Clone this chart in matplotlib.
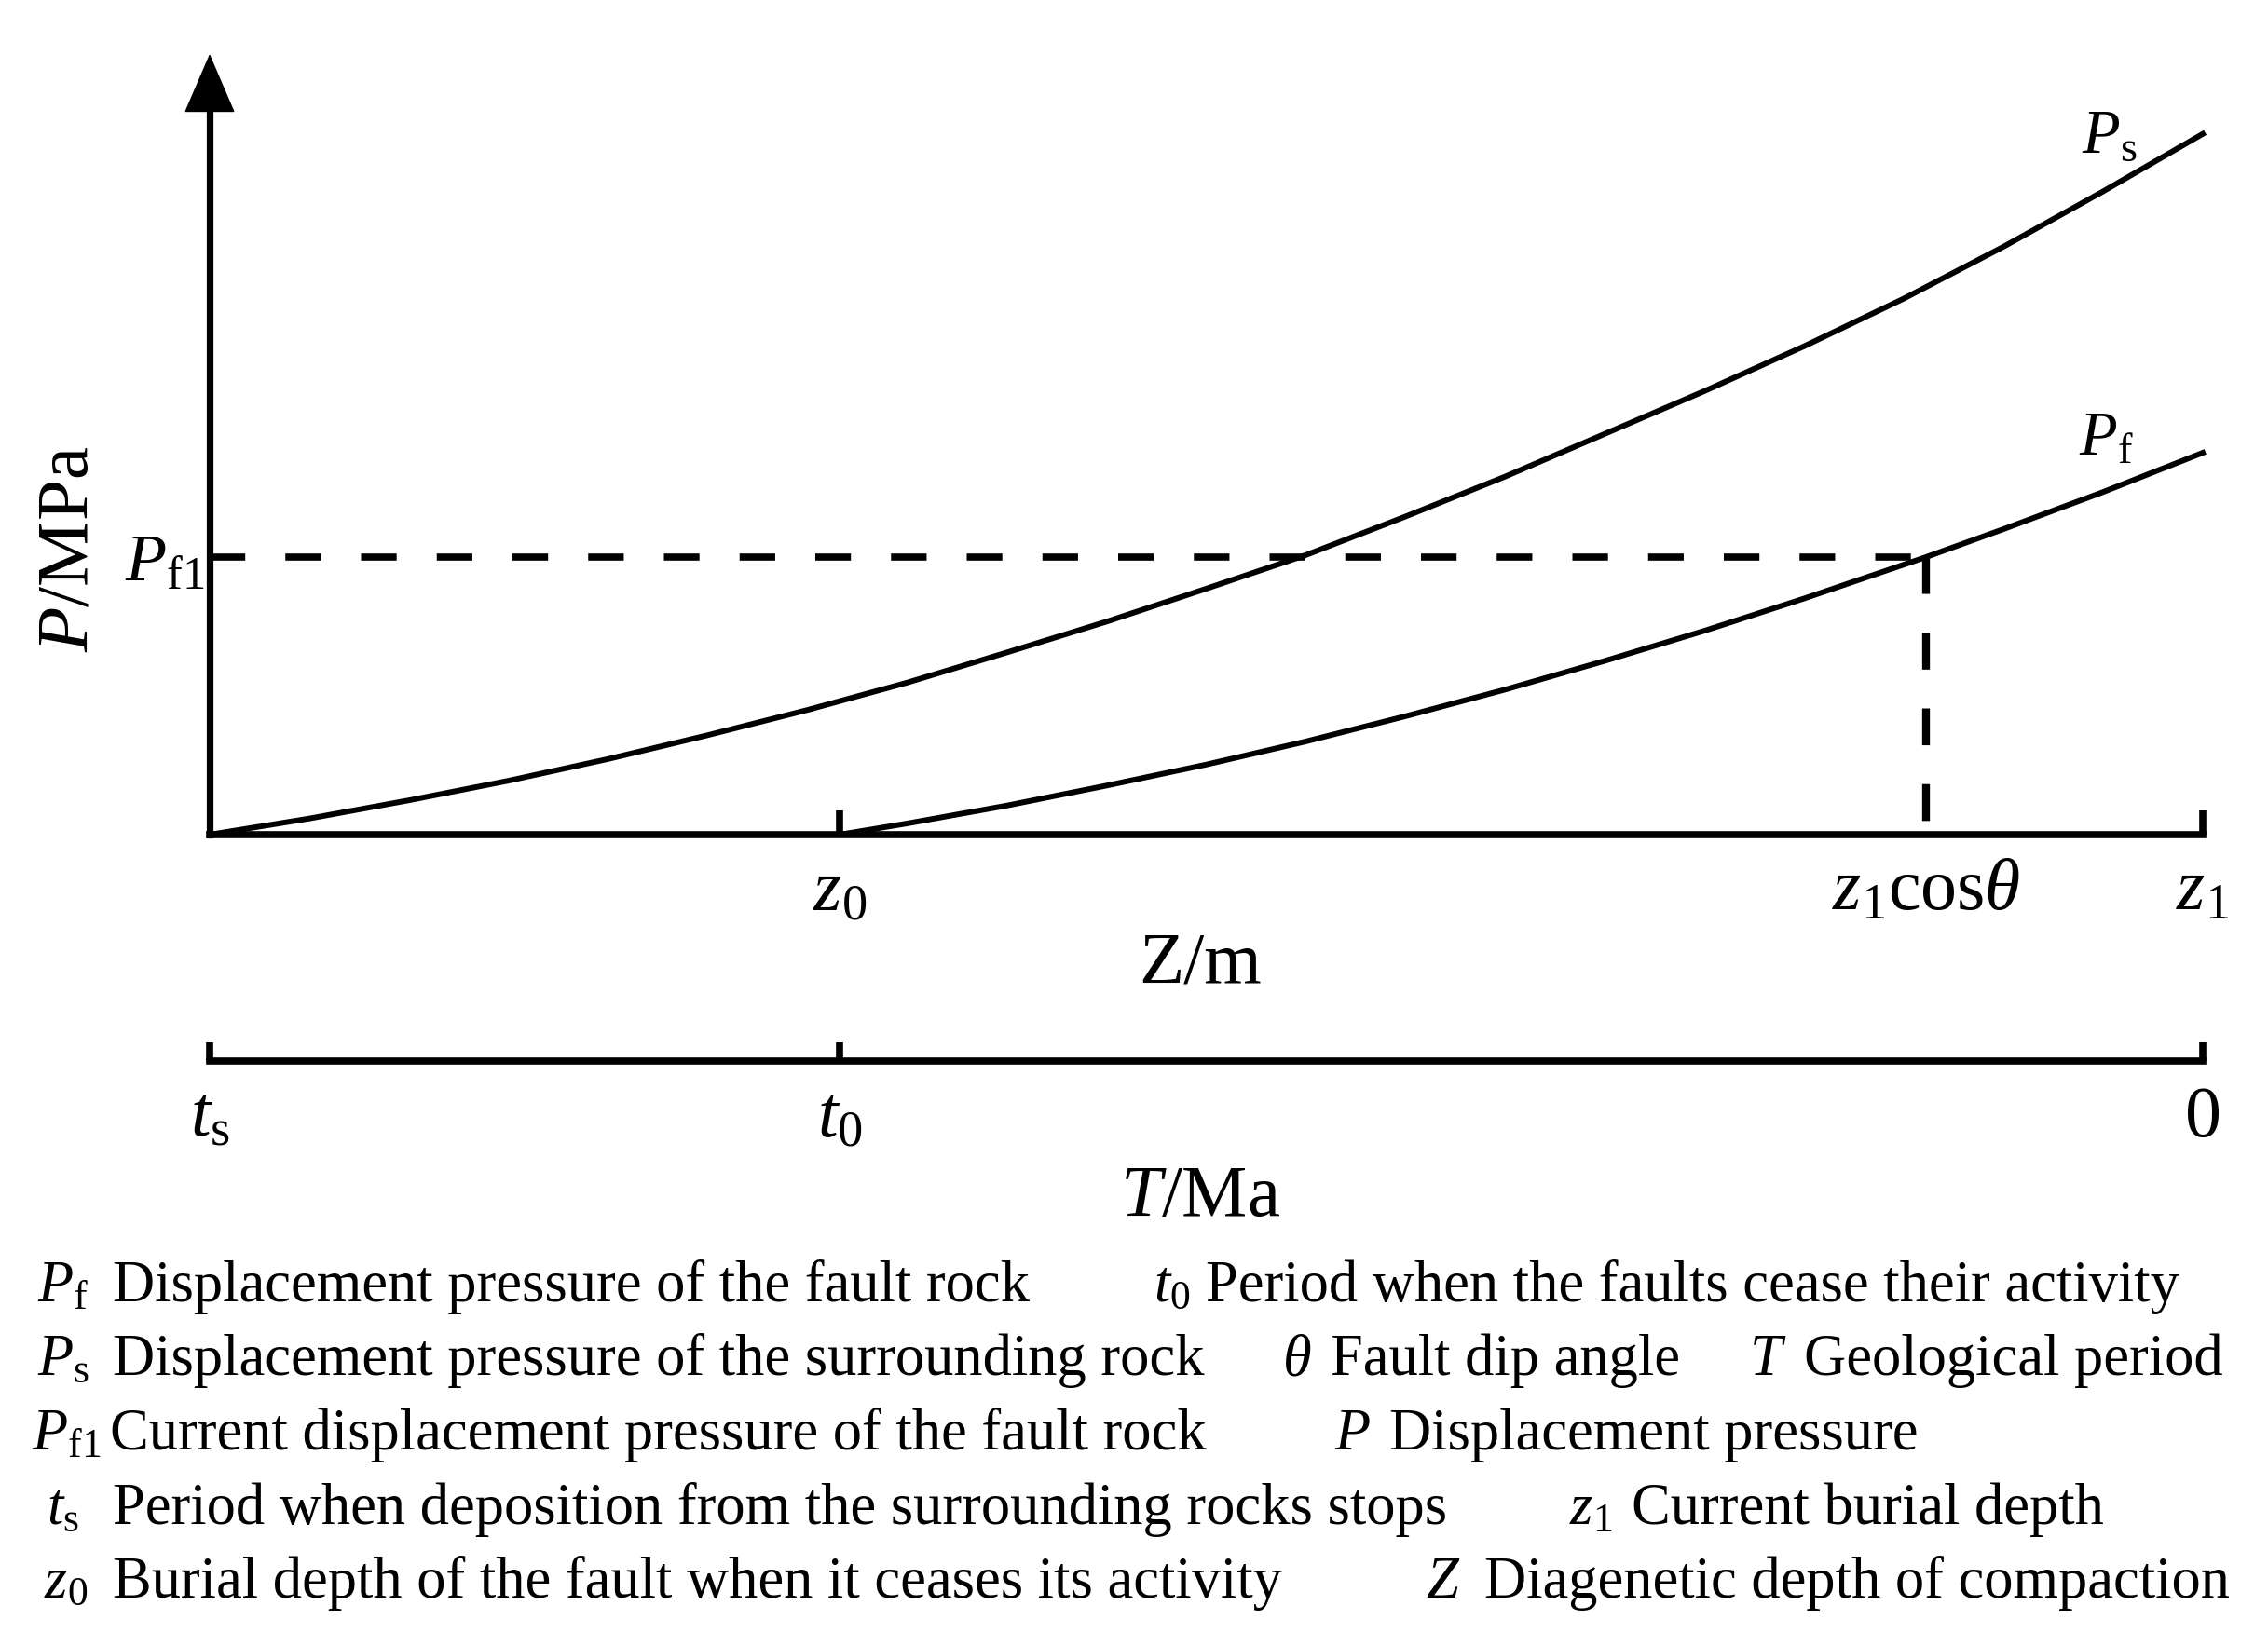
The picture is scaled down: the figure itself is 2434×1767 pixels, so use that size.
import matplotlib
matplotlib.use("Agg")
import matplotlib.pyplot as plt

plt.rcParams['font.family'] = ['Liberation Serif', 'DejaVu Serif']
plt.rcParams['mathtext.fontset'] = 'custom'
plt.rcParams['mathtext.rm'] = 'Liberation Serif'
plt.rcParams['mathtext.it'] = 'Liberation Serif:italic'
plt.rcParams['mathtext.bf'] = 'Liberation Serif:bold'
plt.rcParams['lines.scale_dashes'] = False

# ---------------- data (depth normalised 0..100 = origin..z1, pressure in relative units)
z_ps = [0, 5, 10, 15, 20, 25, 30, 35, 40, 45, 50, 55, 60, 65, 70, 75, 80, 85, 90, 95, 100]
p_ps = [0, 2.3, 4.9, 7.7, 10.8, 14.2, 17.8, 21.7, 26.0, 30.4, 35.1, 39.9, 45.4,
        51.1, 57.2, 63.3, 69.7, 76.5, 83.9, 91.8, 100]
z_pf = [31.6, 35, 40, 45, 50, 55, 60, 65, 70, 75, 80, 86.1, 90, 95, 100]
p_pf = [0, 1.6, 4.15, 7.0, 10.0, 13.3, 16.9, 20.7, 24.8, 29.1, 33.7, 39.6, 43.6, 48.9, 54.5]
z0 = 31.6
z1cos = 86.1
z1 = 100
Pf1 = 39.6
p_top = 111.4

z_ticks = [z0, z1cos, z1]
z_ticklabels = [r'$z_0$', r'$z_1\mathrm{cos}\theta$', r'$z_1$']
t_ticks = [0, z0, 100]
t_ticklabels = [r'$t_{\mathrm{s}}$', r'$t_0$', '0']

legend_rows = [
    [(r'$P_{\mathrm{f}}$', 'Displacement pressure of the fault rock'),
     (r'$t_0$', 'Period when the faults cease their activity')],
    [(r'$P_{\mathrm{s}}$', 'Displacement pressure of the surrounding rock'),
     (r'$\theta$', 'Fault dip angle'),
     (r'$T$', 'Geological period')],
    [(r'$P_{\mathrm{f1}}$', 'Current displacement pressure of the fault rock'),
     (r'$P$', 'Displacement pressure')],
    [(r'$t_{\mathrm{s}}$', 'Period when deposition from the surrounding rocks stops'),
     (r'$z_1$', 'Current burial depth')],
    [(r'$z_0$', 'Burial depth of the fault when it ceases its activity'),
     (r'$Z$', 'Diagenetic depth of compaction')],
]
# layout (pixel positions of symbol / description starts)
legend_pos = [
    [(40, 121), (1238, 1294)],
    [(40, 121), (1376, 1428), (1877, 1936)],
    [(34, 118), (1432, 1491)],
    [(50, 121), (1684, 1751)],
    [(47, 121), (1530, 1593)],
]
legend_base = [1397, 1476, 1556, 1636, 1715]

W, H = 2434, 1767
fig = plt.figure(figsize=(W / 100, H / 100), dpi=100)

x0px, x1px = 225, 2364
y0px, toppx = 896, 58
ax = fig.add_axes([x0px / W, 1 - y0px / H, (x1px - x0px) / W, (y0px - toppx) / H])
ax.set_xlim(0, 100)
ax.set_ylim(0, p_top)
for s in ['top', 'right', 'left']:
    ax.spines[s].set_visible(False)
ax.spines['bottom'].set_linewidth(5.5)
ax.spines['bottom'].set_capstyle('projecting')

# vertical axis with arrow
ax.plot([0, 0], [0, p_top - 6], color='k', lw=5.2, clip_on=False, solid_capstyle='projecting')
ax.annotate('', xy=(0, p_top), xytext=(0, p_top - 9), xycoords='data',
            arrowprops=dict(arrowstyle='-|>,head_length=4.3,head_width=1.85',
                            lw=1, color='k', shrinkA=0, shrinkB=0, mutation_scale=10),
            annotation_clip=False)

# curves
ax.plot(z_ps, p_ps, color='k', lw=4.3, clip_on=False, solid_joinstyle='round')
ax.plot(z_pf, p_pf, color='k', lw=4.3, clip_on=False, solid_joinstyle='round')

# dashed guides
ax.plot([0, z1cos], [Pf1, Pf1], color='k', lw=5.5, dashes=[27.5, 31], clip_on=False)
ax.plot([z1cos, z1cos], [Pf1, 0], color='k', lw=6, dashes=[28.5, 30], clip_on=False)

# curve labels
ax.text(93.9, 97.3, r'$P_{\mathrm{s}}$', fontsize=48, va='baseline', ha='left')
ax.text(93.8, 54.2, r'$P_{\mathrm{f}}$', fontsize=48, va='baseline', ha='left')

# x ticks (Z axis)
ax.set_xticks(z_ticks)
ax.set_xticklabels(z_ticklabels)
ax.tick_params(axis='x', direction='in', length=19, width=5.5, pad=58, labelsize=56)
ax.xaxis.get_major_ticks()[1].tick1line.set_visible(False)
for t in ax.get_xticklabels():
    t.set_va('baseline')

# y tick (Pf1)
ax.set_yticks([Pf1])
ax.set_yticklabels([r'$P_{\mathrm{f1}}$'])
ax.tick_params(axis='y', length=0, pad=4, labelsize=52)

ax.set_ylabel(r'$P$/MPa', fontsize=57, va='baseline')
ax.yaxis.set_label_coords(-0.0613, 0.366)
ax.set_xlabel('Z/m', fontsize=57, va='baseline')
ax.xaxis.set_label_coords(0.497, -0.189)

# time axis
tpx = 1139
ax2 = fig.add_axes([x0px / W, 1 - tpx / H, (x1px - x0px) / W, 60 / H])
ax2.set_xlim(0, 100)
ax2.set_ylim(0, 1)
for s in ['top', 'right', 'left']:
    ax2.spines[s].set_visible(False)
ax2.spines['bottom'].set_linewidth(5.5)
ax2.patch.set_visible(False)
ax2.set_yticks([])
ax2.set_xticks(t_ticks)
ax2.set_xticklabels(t_ticklabels)
ax2.tick_params(axis='x', direction='in', length=14.5, width=5.5, pad=58, labelsize=56)
for t in ax2.get_xticklabels():
    t.set_va('baseline')
ax2.set_xlabel(r'$T$/Ma', fontsize=57, va='baseline')
ax2.xaxis.set_label_coords(0.497, -(1304 - tpx) / 60)

# legend/explanation text
for row, pos, yb in zip(legend_rows, legend_pos, legend_base):
    for (sym, desc), (xs, xd) in zip(row, pos):
        fig.text(xs / W, 1 - yb / H, sym, fontsize=45, va='baseline', ha='left')
        fig.text(xd / W, 1 - yb / H, desc, fontsize=45, va='baseline', ha='left')

fig.savefig('out.png', dpi=100, facecolor='white')
